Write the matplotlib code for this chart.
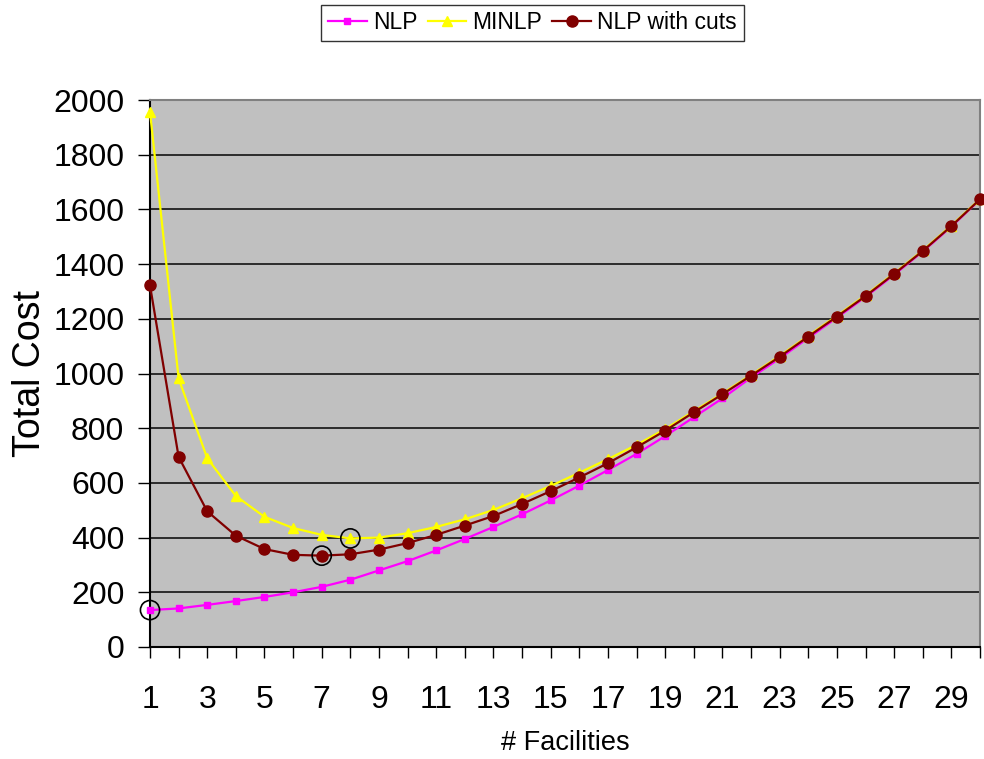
import numpy as np
import matplotlib.pyplot as plt

facilities = list(range(1, 31))

nlp = [135, 141, 154, 168, 183, 200, 220, 246, 280, 314,
       353, 395, 439, 485, 536, 590, 647, 706, 771, 840,
       909, 985, 1055, 1130, 1204, 1280, 1361, 1446, 1537, 1636]
minlp = [1957, 982, 690, 552, 476, 435, 410, 397, 400, 416,
         439, 467, 501, 544, 589, 637, 687, 739, 797, 862,
         927, 995, 1064, 1138, 1211, 1286, 1366, 1450, 1541, 1638]
cuts = [1322, 695, 496, 407, 358, 337, 334, 339, 356, 380,
        410, 444, 479, 523, 570, 620, 672, 730, 791, 858,
        924, 992, 1061, 1135, 1208, 1283, 1364, 1448, 1539, 1637]

# points marked with an open circle: (x, y)
marked_x = [1, 7, 8]
marked_y = [nlp[0], cuts[6], minlp[7]]

plt.rcParams['font.family'] = ['Liberation Sans', 'DejaVu Sans']

fig = plt.figure(figsize=(9.84, 7.59), dpi=100)
ax = fig.add_axes([150/984, 1-647/759, 830/984, 547/759])
ax.set_facecolor('#C0C0C0')

l1, = ax.plot(facilities, nlp, color='#FF00FF', marker='s', ms=5, lw=1.6, clip_on=False, zorder=3)
l2, = ax.plot(facilities, minlp, color='#FFFF00', marker='^', ms=7, lw=1.6, clip_on=False, zorder=3)
l3, = ax.plot(facilities, cuts, color='#800000', marker='o', ms=8, lw=1.6, clip_on=False, zorder=4)
ax.scatter(marked_x, marked_y, s=190, facecolors='none', edgecolors='black', linewidths=1.2,
           zorder=5, clip_on=False)

ax.set_xlim(1, 30)
ax.set_ylim(0, 2000)
ax.set_yticks(np.arange(0, 2001, 200))
ax.yaxis.grid(True, color='#202020', lw=1.3)
ax.set_axisbelow(True)

ax.set_xticks(facilities)
ax.set_xticklabels([str(f) if f % 2 == 1 else '' for f in facilities])
ax.tick_params(axis='x', direction='out', length=8, width=1, pad=19, labelsize=23)
ax.tick_params(axis='y', direction='out', length=8.5, width=1, pad=10, labelsize=23)

for s in ['top', 'right']:
    ax.spines[s].set_color('#808080')
    ax.spines[s].set_linewidth(1.5)
ax.spines['left'].set_linewidth(1.5)
ax.spines['bottom'].set_linewidth(1.5)

ax.set_xlabel('# Facilities', fontsize=19.5, labelpad=11)
ax.set_ylabel('Total Cost', fontsize=27, labelpad=4)

leg = fig.legend([l1, l2, l3], ['NLP', 'MINLP', 'NLP with cuts'], loc='upper center',
                 bbox_to_anchor=(0.541, 0.994), ncol=3, fontsize=16.5, frameon=True,
                 fancybox=False, edgecolor='black', handlelength=1.7, handletextpad=0.25,
                 columnspacing=0.45, borderpad=0.3, borderaxespad=0, markerscale=1.0)
leg.get_frame().set_linewidth(1.0)

fig.savefig('out.png', dpi=100)
